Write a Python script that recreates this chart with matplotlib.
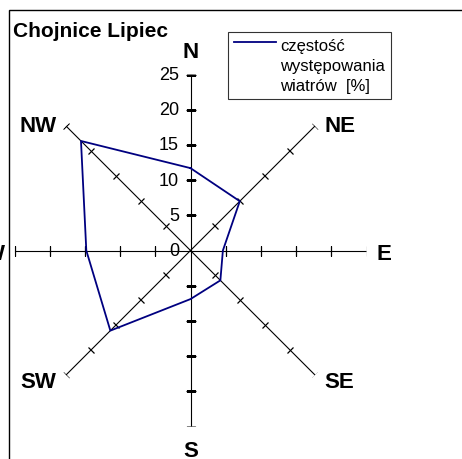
import matplotlib
matplotlib.use('Agg')
import matplotlib.pyplot as plt
import numpy as np
from matplotlib.legend_handler import HandlerLine2D
from matplotlib.markers import MarkerStyle
from matplotlib.patches import Rectangle
from matplotlib.transforms import Affine2D

plt.rcParams['font.family'] = ['Liberation Sans', 'DejaVu Sans']

# data
directions = ['N', 'NE', 'E', 'SE', 'S', 'SW', 'W', 'NW']
frequency = [11.7, 9.9, 4.6, 6.0, 6.9, 16.1, 14.8, 22.0]
r_ticks = [5, 10, 15, 20, 25]
r_labels = ['0', '5', '10', '15', '20', '25']
title = 'Chojnice Lipiec'
series_label = 'częstość\nwystępowania\nwiatrów  [%]'

W, H = 462, 460
CX, CY, R = 190.5, 460 - 251.5, 176.0
NAVY = '#000080'
LEG_FS = 12
LEG_LS = 1.42

# offsets (pixels) of direction labels from the axis end: dx, dy, ha
label_pos = {
    'N': (0, 17, 'center'),
    'NE': (10, -4.7, 'left'),
    'E': (9.5, -8.5, 'left'),
    'SE': (9.5, -12.3, 'left'),
    'S': (0, -30, 'center'),
    'SW': (-9.5, -12.3, 'right'),
    'W': (-9.5, -8.5, 'right'),
    'NW': (-9.5, -4.7, 'right'),
}


class TopLineHandler(HandlerLine2D):
    # put the legend line next to the first text row, like Excel does
    def create_artists(self, legend, orig_handle, xdescent, ydescent,
                       width, height, fontsize, trans):
        arts = super().create_artists(legend, orig_handle, xdescent, ydescent,
                                      width, height, fontsize, trans)
        for a in arts:
            a.set_ydata(np.asarray(a.get_ydata()) + LEG_LS * fontsize)
        return arts


fig = plt.figure(figsize=(W / 100, H / 100), dpi=100)
ax = fig.add_axes([(CX - R) / W, (CY - R) / H, 2 * R / W, 2 * R / H], polar=True)
ax.set_theta_zero_location('N')
ax.set_theta_direction(-1)
ax.set_ylim(0, 25)
ax.grid(False)
ax.spines['polar'].set_visible(False)
ax.set_xticks([])
ax.set_yticks([])
ax.patch.set_alpha(0)

theta = np.deg2rad(np.arange(len(directions)) * 45.0)

# spokes with cross ticks
for name, t in zip(directions, theta):
    ax.plot([t, t], [0, 25], color='black', lw=0.8, zorder=2)
    tick = MarkerStyle('_', transform=Affine2D().rotate_deg(-np.rad2deg(t)))
    ax.plot([t] * len(r_ticks), r_ticks, ls='none', marker=tick, ms=6.8,
            mec='black', mew=0.9, zorder=2)
    dx, dy, ha = label_pos[name]
    ax.annotate(name, xy=(t, 25), xytext=(dx, dy), textcoords='offset pixels',
                ha=ha, va='baseline', fontsize=16, fontweight='bold',
                annotation_clip=False)

# value labels on the N axis
for v, lab in zip([0] + r_ticks, r_labels):
    ax.annotate(lab, xy=(0, v), xytext=(-11.5, 0), textcoords='offset pixels',
                ha='right', va='center', fontsize=13, annotation_clip=False)

# data line (closed)
line, = ax.plot(np.append(theta, theta[0]), frequency + frequency[:1], color=NAVY,
                lw=1.3, zorder=3, label=series_label)

leg = ax.legend(loc='upper left', bbox_to_anchor=(228 / W, 1 - 33 / H),
                bbox_transform=fig.transFigure, frameon=True, fancybox=False,
                fontsize=LEG_FS, handlelength=2.5, handletextpad=0.3,
                borderpad=0.35, borderaxespad=0,
                handler_map={line: TopLineHandler()})
leg.get_frame().set_edgecolor('black')
leg.get_frame().set_linewidth(0.8)
for txt in leg.get_texts():
    txt.set_linespacing(LEG_LS)

fig.text(13 / W, 1 - 37 / H, title, fontsize=15, fontweight='bold',
         ha='left', va='baseline')

fig.add_artist(Rectangle((9 / W, -0.1), 1.2, 1.1 - 11 / H, transform=fig.transFigure,
                         fill=False, edgecolor='black', lw=1.0))

fig.savefig('out.png', dpi=100)
